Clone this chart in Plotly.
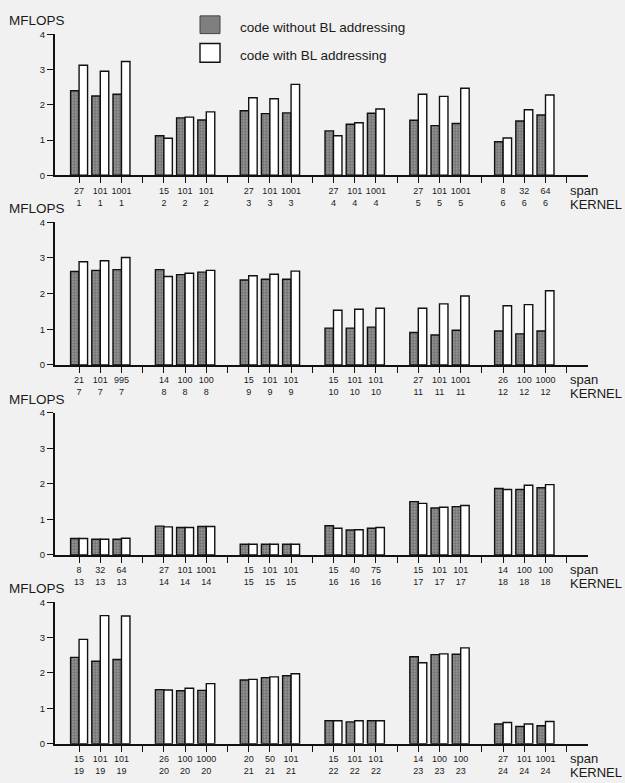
import plotly.graph_objects as go

# ---------------- data ----------------
kernels = list(range(1, 25))
spans = [
    [27, 101, 1001], [15, 101, 101], [27, 101, 1001], [27, 101, 1001], [27, 101, 1001], [8, 32, 64],
    [21, 101, 995], [14, 100, 100], [15, 101, 101], [15, 101, 101], [27, 101, 1001], [26, 100, 1000],
    [8, 32, 64], [27, 101, 1001], [15, 101, 101], [15, 40, 75], [15, 101, 101], [14, 100, 100],
    [15, 101, 101], [26, 100, 1000], [20, 50, 101], [15, 101, 101], [14, 100, 100], [27, 101, 1001],
]
mflops_without_bl = [
    [2.40, 2.25, 2.30], [1.12, 1.63, 1.57], [1.83, 1.75, 1.77], [1.26, 1.45, 1.76], [1.56, 1.41, 1.47], [0.95, 1.54, 1.71],
    [2.62, 2.65, 2.67], [2.67, 2.53, 2.60], [2.38, 2.40, 2.40], [1.03, 1.03, 1.06], [0.91, 0.84, 0.97], [0.95, 0.87, 0.95],
    [0.46, 0.44, 0.44], [0.81, 0.77, 0.80], [0.30, 0.30, 0.30], [0.82, 0.70, 0.75], [1.50, 1.32, 1.36], [1.87, 1.84, 1.89],
    [2.44, 2.33, 2.38], [1.53, 1.50, 1.51], [1.80, 1.87, 1.92], [0.65, 0.62, 0.65], [2.46, 2.52, 2.53], [0.56, 0.49, 0.51],
]
mflops_with_bl = [
    [3.12, 2.95, 3.23], [1.05, 1.65, 1.80], [2.20, 2.17, 2.58], [1.12, 1.49, 1.88], [2.30, 2.24, 2.47], [1.06, 1.86, 2.28],
    [2.89, 2.92, 3.01], [2.48, 2.57, 2.65], [2.50, 2.54, 2.63], [1.53, 1.56, 1.59], [1.59, 1.71, 1.93], [1.66, 1.69, 2.08],
    [0.46, 0.44, 0.47], [0.79, 0.77, 0.80], [0.30, 0.30, 0.30], [0.75, 0.71, 0.77], [1.45, 1.34, 1.39], [1.84, 1.96, 1.98],
    [2.95, 3.62, 3.61], [1.52, 1.57, 1.70], [1.82, 1.89, 1.98], [0.65, 0.65, 0.65], [2.29, 2.54, 2.71], [0.60, 0.56, 0.63],
]
series_names = ["code without BL addressing", "code with BL addressing"]
y_ticks = [0, 1, 2, 3, 4]

# ---------------- layout helpers ----------------
W, H = 625, 783
BG = "#f1f1f1"
FONT = "Liberation Sans, Arial, Helvetica, sans-serif"
INK = "#1a1a1a"

# pixel positions of each panel's y=4 (top) and y=0 (bottom)
panel_px = [(28.7, 171.7), (219.3, 364.0), (412.7, 556.7), (604.7, 748.3)]
x_dom = [54.7 / W, 587.9 / W]

fig = go.Figure()
annotations = []
shapes = []

dark_marker = dict(
    color="#959595",
    pattern=dict(shape=".", fgcolor="#333333", bgcolor="#9a9a9a", size=3, solidity=0.45, fillmode="overlay"),
    line=dict(color="#111111", width=1.4),
)
white_marker = dict(color="#ffffff", line=dict(color="#111111", width=1.4))

for p in range(4):
    xa = "x" if p == 0 else f"x{p + 1}"
    ya = "y" if p == 0 else f"y{p + 1}"
    xs, yd, yw = [], [], []
    tickvals, ticktext = [], []
    for g in range(6):
        k = p * 6 + g
        for j in range(3):
            slot = 4 * g + 1 + j
            xs.append(slot)
            yd.append(mflops_without_bl[k][j])
            yw.append(mflops_with_bl[k][j])
            tickvals.append(slot)
            ticktext.append(f"{spans[k][j]}<br>{kernels[k]}")
        tickvals.append(4 * g + 4)
        ticktext.append("")
    fig.add_trace(go.Bar(x=xs, y=yd, name=series_names[0], marker=dark_marker,
                         xaxis=xa, yaxis=ya, showlegend=False, offsetgroup="a"))
    fig.add_trace(go.Bar(x=xs, y=yw, name=series_names[1], marker=white_marker,
                         xaxis=xa, yaxis=ya, showlegend=False, offsetgroup="b"))

    top_px, bot_px = panel_px[p]
    dom = [1 - bot_px / H, 1 - top_px / H]
    xkey = "xaxis" if p == 0 else f"xaxis{p + 1}"
    ykey = "yaxis" if p == 0 else f"yaxis{p + 1}"
    fig.layout[xkey] = dict(
        domain=x_dom, anchor=ya, range=[-0.15, 25], showgrid=False, zeroline=False,
        showline=True, linecolor="#111111", linewidth=1.6,
        ticks="outside", ticklen=6, tickwidth=1.3, tickcolor="#111111",
        tickvals=tickvals, ticktext=ticktext, tickangle=0,
        tickfont=dict(family=FONT, size=9, color=INK),
    )
    fig.layout[ykey] = dict(
        domain=dom, anchor=xa, range=[0, 4], showgrid=False, zeroline=False,
        showline=True, linecolor="#111111", linewidth=1.6,
        ticks="outside", ticklen=6, tickwidth=1.3, tickcolor="#111111",
        tickvals=y_ticks, ticktext=[str(v) for v in y_ticks],
        tickfont=dict(family=FONT, size=9.5, color=INK),
    )
    # MFLOPS label
    annotations.append(dict(text="MFLOPS", xref="paper", yref="paper", x=7 / W,
                            y=1 - (top_px - 14) / H, xanchor="left", yanchor="middle",
                            showarrow=False, font=dict(family=FONT, size=13.5, color=INK)))
    # span / KERNEL labels
    annotations.append(dict(text="span", xref="paper", yref="paper", x=568 / W,
                            y=1 - (bot_px + 15) / H, xanchor="left", yanchor="middle",
                            showarrow=False, font=dict(family=FONT, size=13, color=INK)))
    annotations.append(dict(text="KERNEL", xref="paper", yref="paper", x=568 / W,
                            y=1 - (bot_px + 29.5) / H, xanchor="left", yanchor="middle",
                            showarrow=False, font=dict(family=FONT, size=13, color=INK)))

# legend drawn as boxes + text
shapes.append(dict(type="rect", xref="paper", yref="paper", x0=200 / W, x1=220 / W,
                   y0=1 - 28 / H, y1=1 - 10 / H, fillcolor="#7f7f7f",
                   line=dict(color="#444444", width=1)))
shapes.append(dict(type="rect", xref="paper", yref="paper", x0=200 / W, x1=220 / W,
                   y0=1 - 57 / H, y1=1 - 38 / H, fillcolor="#ffffff",
                   line=dict(color="#111111", width=1.4)))
annotations.append(dict(text=series_names[0], xref="paper", yref="paper", x=238 / W,
                        y=1 - 21.5 / H, xanchor="left", yanchor="middle", showarrow=False,
                        font=dict(family=FONT, size=13.5, color=INK)))
annotations.append(dict(text=series_names[1], xref="paper", yref="paper", x=238 / W,
                        y=1 - 50 / H, xanchor="left", yanchor="middle", showarrow=False,
                        font=dict(family=FONT, size=13.5, color=INK)))

fig.update_layout(
    width=W, height=H, margin=dict(l=0, r=0, t=0, b=0),
    paper_bgcolor=BG, plot_bgcolor=BG,
    barmode="group", bargap=0.2, bargroupgap=0,
    annotations=annotations, shapes=shapes,
    font=dict(family=FONT, color=INK),
)

fig.write_html("out.html", config={"displayModeBar": False})
